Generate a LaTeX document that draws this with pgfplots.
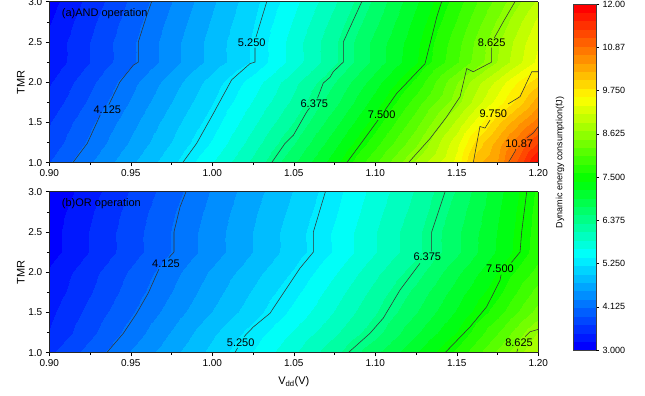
\documentclass[border=0pt]{standalone}
\usepackage{fontspec}
\setmainfont{Liberation Sans}
\usepackage{pgfplots}
\usepackage{pgfplotstable}
\pgfplotsset{compat=1.18}
\pgfplotsset{
 colormap={originbase}{rgb255(0cm)=(0,0,255) rgb255(2.43cm)=(0,255,255) rgb255(4.42cm)=(0,255,0) rgb255(6.6cm)=(255,255,0) rgb255(9cm)=(255,0,0)},
 colormap={origin}{samples of colormap=(41 of originbase)},
}
\tikzset{clabel/.style={font=\fontsize{11}{13}\selectfont, inner sep=0pt}}
\pgfplotstableread{
x y z
0.900 1.00 3.88
0.925 1.00 4.30
0.950 1.00 4.72
0.975 1.00 5.14
1.000 1.00 5.63
1.025 1.00 6.14
1.050 1.00 6.71
1.075 1.00 7.32
1.100 1.00 8.02
1.125 1.00 8.76
1.150 1.00 9.46
1.1625 1.00 10.20
1.175 1.00 10.50
1.1875 1.00 11.20
1.200 1.00 11.90
0.900 1.25 3.73
0.925 1.25 4.15
0.950 1.25 4.57
0.975 1.25 4.99
1.000 1.25 5.44
1.025 1.25 5.96
1.050 1.25 6.50
1.075 1.25 7.10
1.100 1.25 7.74
1.125 1.25 8.44
1.150 1.25 9.30
1.1625 1.25 9.90
1.175 1.25 10.35
1.1875 1.25 10.85
1.200 1.25 11.36
0.900 1.50 3.64
0.925 1.50 4.05
0.950 1.50 4.46
0.975 1.50 4.88
1.000 1.50 5.30
1.025 1.50 5.80
1.050 1.50 6.30
1.075 1.50 6.88
1.100 1.50 7.49
1.125 1.50 8.18
1.150 1.50 8.98
1.1625 1.50 9.45
1.175 1.50 9.97
1.1875 1.50 10.40
1.200 1.50 10.80
0.900 1.75 3.51
0.925 1.75 3.92
0.950 1.75 4.34
0.975 1.75 4.76
1.000 1.75 5.18
1.025 1.75 5.65
1.050 1.75 6.13
1.075 1.75 6.67
1.100 1.75 7.27
1.125 1.75 7.93
1.150 1.75 8.63
1.1625 1.75 9.05
1.175 1.75 9.47
1.1875 1.75 9.90
1.200 1.75 10.37
0.900 2.00 3.41
0.925 2.00 3.82
0.950 2.00 4.24
0.975 2.00 4.65
1.000 2.00 5.07
1.025 2.00 5.52
1.050 2.00 6.01
1.075 2.00 6.51
1.100 2.00 7.07
1.125 2.00 7.67
1.150 2.00 8.48
1.1625 2.00 8.85
1.175 2.00 9.22
1.1875 2.00 9.60
1.200 2.00 9.95
0.900 2.25 3.27
0.925 2.25 3.66
0.950 2.25 4.05
0.975 2.25 4.45
1.000 2.25 4.84
1.025 2.25 5.23
1.050 2.25 5.74
1.075 2.25 6.26
1.100 2.25 6.81
1.125 2.25 7.37
1.150 2.25 8.03
1.1625 2.25 8.38
1.175 2.25 8.73
1.1875 2.25 9.08
1.200 2.25 9.43
0.900 2.50 3.27
0.925 2.50 3.66
0.950 2.50 4.05
0.975 2.50 4.45
1.000 2.50 4.84
1.025 2.50 5.23
1.050 2.50 5.74
1.075 2.50 6.26
1.100 2.50 6.80
1.125 2.50 7.33
1.150 2.50 7.97
1.1625 2.50 8.33
1.175 2.50 8.68
1.1875 2.50 9.02
1.200 2.50 9.35
0.900 2.75 3.20
0.925 2.75 3.60
0.950 2.75 3.99
0.975 2.75 4.39
1.000 2.75 4.78
1.025 2.75 5.18
1.050 2.75 5.66
1.075 2.75 6.16
1.100 2.75 6.68
1.125 2.75 7.24
1.150 2.75 7.85
1.1625 2.75 8.19
1.175 2.75 8.53
1.1875 2.75 8.87
1.200 2.75 9.21
0.900 3.00 3.12
0.925 3.00 3.52
0.950 3.00 3.92
0.975 3.00 4.32
1.000 3.00 4.72
1.025 3.00 5.12
1.050 3.00 5.57
1.075 3.00 6.05
1.100 3.00 6.57
1.125 3.00 7.14
1.150 3.00 7.73
1.1625 3.00 8.05
1.175 3.00 8.36
1.1875 3.00 8.67
1.200 3.00 8.98
}\andtable
\pgfplotstableread{
x y z
0.900 1.00 3.62
0.925 1.00 3.98
0.950 1.00 4.34
0.975 1.00 4.69
1.000 1.00 5.05
1.025 1.00 5.43
1.050 1.00 5.83
1.075 1.00 6.24
1.100 1.00 6.69
1.125 1.00 7.16
1.150 1.00 7.68
1.175 1.00 8.33
1.200 1.00 8.97
0.900 1.25 3.45
0.925 1.25 3.82
0.950 1.25 4.19
0.975 1.25 4.56
1.000 1.25 4.93
1.025 1.25 5.29
1.050 1.25 5.67
1.075 1.25 6.04
1.100 1.25 6.43
1.125 1.25 6.92
1.150 1.25 7.41
1.175 1.25 8.05
1.200 1.25 8.73
0.900 1.50 3.38
0.925 1.50 3.73
0.950 1.50 4.07
0.975 1.50 4.42
1.000 1.50 4.76
1.025 1.50 5.10
1.050 1.50 5.48
1.075 1.50 5.87
1.100 1.50 6.27
1.125 1.50 6.72
1.150 1.50 7.20
1.175 1.50 7.74
1.200 1.50 8.36
0.900 1.75 3.30
0.925 1.75 3.64
0.950 1.75 3.98
0.975 1.75 4.32
1.000 1.75 4.66
1.025 1.75 5.00
1.050 1.75 5.35
1.075 1.75 5.75
1.100 1.75 6.15
1.125 1.75 6.58
1.150 1.75 7.06
1.175 1.75 7.55
1.200 1.75 8.14
0.900 2.00 3.25
0.925 2.00 3.58
0.950 2.00 3.91
0.975 2.00 4.24
1.000 2.00 4.57
1.025 2.00 4.89
1.050 2.00 5.22
1.075 2.00 5.61
1.100 2.00 6.01
1.125 2.00 6.41
1.150 2.00 6.90
1.175 2.00 7.40
1.200 2.00 7.91
0.900 2.25 3.12
0.925 2.25 3.45
0.950 2.25 3.78
0.975 2.25 4.11
1.000 2.25 4.43
1.025 2.25 4.76
1.050 2.25 5.09
1.075 2.25 5.45
1.100 2.25 5.84
1.125 2.25 6.23
1.150 2.25 6.69
1.175 2.25 7.21
1.200 2.25 7.73
0.900 2.50 3.12
0.925 2.50 3.45
0.950 2.50 3.78
0.975 2.50 4.11
1.000 2.50 4.43
1.025 2.50 4.76
1.050 2.50 5.09
1.075 2.50 5.45
1.100 2.50 5.84
1.125 2.50 6.23
1.150 2.50 6.69
1.175 2.50 7.19
1.200 2.50 7.71
0.900 2.75 3.09
0.925 2.75 3.41
0.950 2.75 3.74
0.975 2.75 4.07
1.000 2.75 4.39
1.025 2.75 4.72
1.050 2.75 5.04
1.075 2.75 5.39
1.100 2.75 5.78
1.125 2.75 6.16
1.150 2.75 6.62
1.175 2.75 7.15
1.200 2.75 7.69
0.900 3.00 3.02
0.925 3.00 3.35
0.950 3.00 3.68
0.975 3.00 4.01
1.000 3.00 4.34
1.025 3.00 4.67
1.050 3.00 4.99
1.075 3.00 5.34
1.100 3.00 5.72
1.125 3.00 6.10
1.150 3.00 6.54
1.175 3.00 7.10
1.200 3.00 7.66
}\ortable
\pgfplotsset{
 mainax/.style={
  scale only axis, width=489pt, height=161pt,
  xmin=0.9, xmax=1.2, ymin=1, ymax=3,
  view={0}{90},
  colormap name=origin, colormap access=piecewise constant,
  point meta min=3, point meta max=12,
  xtick={0.9,0.95,1,1.05,1.1,1.15,1.2},
  xticklabels={0.90,0.95,1.00,1.05,1.10,1.15,1.20},
  ytick={1,1.5,2,2.5,3},
  yticklabels={1.0,1.5,2.0,2.5,3.0},
  ztick=\empty,
  minor x tick num=1, minor y tick num=1,
  tick pos=left, tick align=outside,
  major tick length=3.5pt, minor tick length=2pt,
  tick label style={font=\fontsize{10}{12}\selectfont},
  /pgf/number format/assume math mode=true,
  ylabel={TMR},
  ylabel style={font=\fontsize{11}{13}\selectfont, at={(axis description cs:-0.058,0.5)}, anchor=center},
  axis on top,
  axis line style={line width=0.6pt, black!85},
  every tick/.style={black, line width=0.5pt},
 },
 cline/.style={no marks, draw=black!80, line width=0.55pt},
}
\begin{document}
\begin{tikzpicture}
\path[use as bounding box] (0,0) rectangle (645pt,396pt);
% ---------------- (a) AND
\begin{axis}[mainax, at={(49.3pt,233.3pt)}, anchor=south west]
\addplot3[surf, shader=interp, mesh/cols=15] table[x=x,y=y,z=z] {\andtable};
\addplot3[cline] coordinates {(0.9144,1.0,12) (0.9233,1.24,12) (0.9312,1.59,12)};
\addplot3[cline] coordinates {(0.9365,1.72,12) (0.9434,2.006,12) (0.9515,2.21,12) (0.9546,2.25,12) (0.9546,2.5,12) (0.9598,2.83,12) (0.9628,3.0,12)};
\addplot3[cline] coordinates {(0.9818,1.0,12) (0.9904,1.24,12) (1.0006,1.61,12) (1.0119,2.03,12) (1.0231,2.23,12) (1.0262,2.25,12) (1.0262,2.43,12)};
\addplot3[cline] coordinates {(1.0268,2.56,12) (1.0313,2.86,12) (1.0334,3.0,12)};
\addplot3[cline] coordinates {(1.0364,1.0,12) (1.0446,1.24,12) (1.0497,1.34,12) (1.0579,1.63,12) (1.0597,1.68,12)};
\addplot3[cline] coordinates {(1.0645,1.80,12) (1.0681,1.99,12) (1.0722,2.06,12) (1.0742,2.13,12) (1.0804,2.25,12) (1.0804,2.50,12) (1.0865,2.77,12) (1.0917,3.0,12)};
\addplot3[cline] coordinates {(1.0825,1.0,12) (1.0927,1.28,12) (1.1017,1.53,12)};
\addplot3[cline] coordinates {(1.1060,1.655,12) (1.1131,1.86,12) (1.1305,2.23,12) (1.1336,2.48,12) (1.1377,2.81,12) (1.1407,3.0,12)};
\addplot3[cline] coordinates {(1.1203,1.0,12) (1.1336,1.30,12) (1.1438,1.57,12) (1.152,1.82,12) (1.1561,2.17,12) (1.1601,2.13,12) (1.1714,2.25,12) (1.1714,2.43,12)};
\addplot3[cline] coordinates {(1.1730,2.55,12) (1.1785,2.75,12) (1.1857,3.0,12)};
\addplot3[cline] coordinates {(1.1601,1.0,12) (1.1642,1.45,12) (1.1673,1.43,12) (1.1704,1.53,12)};
\addplot3[cline] coordinates {(1.1815,1.73,12) (1.1888,1.82,12) (1.196,2.13,12) (1.20,2.13,12)};
\addplot3[cline] coordinates {(1.1816,1.0,12) (1.1857,1.14,12) (1.1862,1.17,12)};
\addplot3[cline] coordinates {(1.193,1.31,12) (1.197,1.37,12) (1.20,1.45,12)};
\node[clabel] at (axis cs:0.9356,1.655,12) {4.125};
\node[clabel] at (axis cs:1.0242,2.49,12) {5.250};
\node[clabel] at (axis cs:1.0626,1.738,12) {6.375};
\node[clabel] at (axis cs:1.1039,1.593,12) {7.500};
\node[clabel] at (axis cs:1.1714,2.49,12) {8.625};
\node[clabel] at (axis cs:1.1724,1.614,12) {9.750};
\node[clabel] at (axis cs:1.1883,1.24,12) {10.87};
\node[anchor=west, inner sep=0pt, font=\fontsize{11}{13}\selectfont] at (axis description cs:0.0254,0.928) {(a)AND operation};
\end{axis}
% ---------------- (b) OR
\begin{axis}[mainax, at={(49.3pt,43.3pt)}, anchor=south west,
  xlabel={V\textsubscript{dd}(V)},
  xlabel style={font=\fontsize{11}{13}\selectfont, at={(axis description cs:0.5,-0.18)}, anchor=center}]
\addplot3[surf, shader=interp, mesh/cols=13] table[x=x,y=y,z=z] {\ortable};
\addplot3[cline] coordinates {(0.9352,1.0,12) (0.9454,1.24,12) (0.9536,1.49,12) (0.9607,1.74,12) (0.9673,2.04,12)};
\addplot3[cline] coordinates {(0.9733,2.18,12) (0.9765,2.25,12) (0.9765,2.5,12) (0.9802,2.81,12) (0.9839,3.0,12)};
\addplot3[cline] coordinates {(1.0139,1.0,12) (1.0155,1.06,12)};
\addplot3[cline] coordinates {(1.0195,1.20,12) (1.0252,1.32,12) (1.0354,1.49,12) (1.0436,1.74,12) (1.0538,2.05,12) (1.062,2.25,12) (1.062,2.50,12) (1.0691,2.98,12) (1.0694,3.0,12)};
\addplot3[cline] coordinates {(1.0834,1.0,12) (1.0967,1.24,12) (1.1049,1.43,12) (1.1152,1.78,12) (1.1274,2.11,12)};
\addplot3[cline] coordinates {(1.1346,2.26,12) (1.1346,2.5,12) (1.1428,3.0,12)};
\addplot3[cline] coordinates {(1.1428,1.0,12) (1.1581,1.32,12) (1.1683,1.57,12) (1.1765,1.90,12) (1.1772,1.97,12)};
\addplot3[cline] coordinates {(1.1835,2.12,12) (1.1888,2.25,12) (1.1898,2.5,12) (1.1929,3.0,12)};
\addplot3[cline] coordinates {(1.1867,1.0,12) (1.1875,1.05,12)};
\addplot3[cline] coordinates {(1.192,1.20,12) (1.1949,1.26,12) (1.20,1.29,12)};
\node[clabel] at (axis cs:0.9716,2.11,12) {4.125};
\node[clabel] at (axis cs:1.0174,1.13,12) {5.250};
\node[clabel] at (axis cs:1.1319,2.19,12) {6.375};
\node[clabel] at (axis cs:1.1765,2.04,12) {7.500};
\node[clabel] at (axis cs:1.1882,1.12,12) {8.625};
\node[anchor=west, inner sep=0pt, font=\fontsize{11}{13}\selectfont] at (axis description cs:0.0254,0.928) {(b)OR operation};
\end{axis}
% ---------------- colour bar
\begin{axis}[at={(573.3pt,46pt)}, anchor=south west, scale only axis,
  width=22.7pt, height=346pt, xmin=0, xmax=1, ymin=3, ymax=12,
  view={0}{90},
  colormap name=origin, colormap access=piecewise constant,
  point meta min=3, point meta max=12,
  xtick=\empty, ztick=\empty,
  ytick={3,4.125,5.25,6.375,7.5,8.625,9.75,10.875,12},
  yticklabels={3.000,4.125,5.250,6.375,7.500,8.625,9.750,10.87,12.00},
  ytick pos=right, yticklabel pos=right, tick align=outside,
  major tick length=3pt,
  every tick/.style={black, line width=0.5pt},
  tick label style={font=\fontsize{9}{11}\selectfont},
  axis on top,
  axis line style={line width=0.6pt, black!75},
  ylabel={Dynamic energy consumption(fJ)},
  ylabel style={font=\fontsize{9}{11}\selectfont, at={(axis description cs:-0.586,0.542)}, anchor=center}]
\addplot3[surf, shader=interp, mesh/cols=2] coordinates {(0,3,3) (1,3,3) (0,12,12) (1,12,12)};
\end{axis}
\end{tikzpicture}
\end{document}
